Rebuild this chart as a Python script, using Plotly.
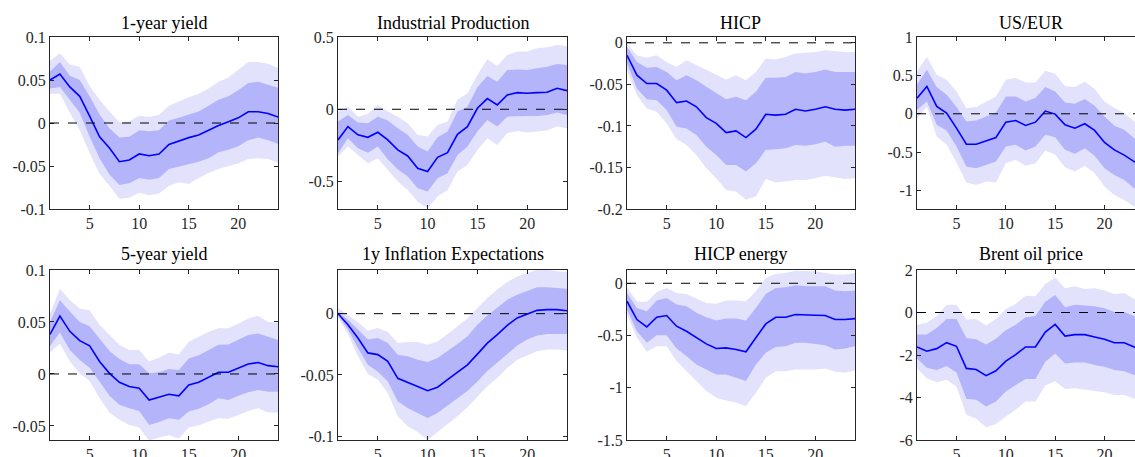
import plotly.graph_objects as go

# horizons (months)
horizon = list(range(1, 25))

# 1-year yield
oney_mid = [0.050, 0.057, 0.042, 0.031, 0.008, -0.016, -0.029, -0.045, -0.043, -0.036, -0.038, -0.036,
            -0.025, -0.021, -0.017, -0.014, -0.0085, -0.003, 0.0015, 0.006, 0.013, 0.013, 0.011, 0.007]
oney_hi68 = [0.060, 0.071, 0.055, 0.050, 0.031, 0.010, -0.006, -0.017, -0.016, -0.0085, -0.0097, -0.0085,
             0.003, 0.006, 0.010, 0.0135, 0.020, 0.027, 0.031, 0.038, 0.0465, 0.048, 0.0445, 0.041]
oney_lo68 = [0.040, 0.042, 0.027, 0.012, -0.016, -0.041, -0.060, -0.072, -0.070, -0.064, -0.066, -0.064,
             -0.0535, -0.051, -0.048, -0.045, -0.041, -0.034, -0.031, -0.027, -0.020, -0.017, -0.020, -0.024]
oney_hi90 = [0.072, 0.081, 0.068, 0.065, 0.043, 0.027, 0.0135, 0.001, 0.002, 0.0085, 0.007, 0.0097,
             0.020, 0.025, 0.030, 0.034, 0.040, 0.048, 0.053, 0.062, 0.071, 0.071, 0.069, 0.064]
oney_lo90 = [0.034, 0.034, 0.012, -0.008, -0.035, -0.059, -0.073, -0.088, -0.087, -0.081, -0.084, -0.082,
             -0.073, -0.069, -0.071, -0.064, -0.058, -0.0535, -0.050, -0.047, -0.042, -0.041, -0.042, -0.046]

# Industrial Production
ip_mid = [-0.212, -0.120, -0.177, -0.194, -0.159, -0.212, -0.281, -0.323, -0.408, -0.431, -0.332, -0.300,
          -0.173, -0.120, 0.007, 0.074, 0.030, 0.099, 0.115, 0.111, 0.115, 0.118, 0.145, 0.129]
ip_hi68 = [-0.085, -0.039, -0.092, -0.097, -0.051, -0.078, -0.131, -0.177, -0.258, -0.293, -0.194, -0.154,
           -0.016, 0.018, 0.152, 0.230, 0.191, 0.272, 0.276, 0.272, 0.283, 0.295, 0.313, 0.306]
ip_lo68 = [-0.304, -0.200, -0.270, -0.300, -0.258, -0.346, -0.415, -0.465, -0.546, -0.569, -0.477, -0.442,
           -0.316, -0.258, -0.154, -0.074, -0.120, -0.051, -0.046, -0.046, -0.046, -0.039, -0.023, -0.039]
ip_hi90 = [-0.016, 0.018, -0.051, -0.032, 0.030, -0.016, -0.051, -0.097, -0.177, -0.189, -0.108, -0.085,
           0.065, 0.111, 0.237, 0.346, 0.300, 0.376, 0.399, 0.399, 0.422, 0.429, 0.445, 0.438]
ip_lo90 = [-0.327, -0.258, -0.316, -0.373, -0.339, -0.419, -0.500, -0.558, -0.639, -0.684, -0.604, -0.558,
           -0.431, -0.385, -0.281, -0.200, -0.247, -0.166, -0.150, -0.161, -0.154, -0.147, -0.120, -0.131]

# HICP
hicp_mid = [-0.015, -0.039, -0.049, -0.049, -0.057, -0.072, -0.070, -0.077, -0.090, -0.097, -0.108, -0.106,
            -0.114, -0.104, -0.086, -0.087, -0.086, -0.080, -0.082, -0.080, -0.077, -0.080, -0.081, -0.080]
hicp_hi68 = [-0.005, -0.023, -0.030, -0.029, -0.035, -0.045, -0.039, -0.045, -0.053, -0.060, -0.068, -0.065,
             -0.069, -0.059, -0.042, -0.042, -0.041, -0.035, -0.037, -0.035, -0.032, -0.035, -0.035, -0.035]
hicp_lo68 = [-0.025, -0.055, -0.068, -0.069, -0.081, -0.101, -0.103, -0.111, -0.125, -0.135, -0.147, -0.147,
             -0.155, -0.145, -0.129, -0.128, -0.127, -0.123, -0.124, -0.122, -0.119, -0.125, -0.124, -0.124]
hicp_hi90 = [-0.001, -0.015, -0.018, -0.015, -0.023, -0.029, -0.021, -0.027, -0.033, -0.038, -0.044, -0.039,
             -0.045, -0.035, -0.019, -0.020, -0.017, -0.013, -0.012, -0.011, -0.009, -0.010, -0.011, -0.011]
hicp_lo90 = [-0.033, -0.063, -0.079, -0.083, -0.097, -0.116, -0.123, -0.135, -0.151, -0.163, -0.177, -0.179,
             -0.189, -0.185, -0.164, -0.168, -0.167, -0.165, -0.165, -0.163, -0.160, -0.162, -0.164, -0.163]

# US/EUR
fx_mid = [0.204, 0.357, 0.096, 0.009, -0.187, -0.396, -0.396, -0.352, -0.309, -0.109, -0.087, -0.152,
          -0.109, 0.035, -0.004, -0.143, -0.187, -0.130, -0.217, -0.374, -0.470, -0.539, -0.622, -0.680]
fx_hi68 = [0.378, 0.574, 0.348, 0.248, 0.087, -0.100, -0.087, -0.035, 0.017, 0.226, 0.226, 0.161,
           0.204, 0.348, 0.291, 0.148, 0.130, 0.191, 0.104, -0.035, -0.157, -0.209, -0.317, -0.370]
fx_lo68 = [0.052, 0.161, -0.143, -0.217, -0.426, -0.687, -0.709, -0.665, -0.622, -0.426, -0.404, -0.478,
           -0.426, -0.274, -0.304, -0.470, -0.522, -0.448, -0.548, -0.709, -0.796, -0.861, -0.970, -1.020]
fx_hi90 = [0.552, 0.739, 0.509, 0.443, 0.291, 0.074, 0.087, 0.161, 0.226, 0.443, 0.465, 0.409,
           0.409, 0.561, 0.522, 0.357, 0.348, 0.422, 0.322, 0.161, 0.074, 0.009, -0.100, -0.150]
fx_lo90 = [-0.057, 0.096, -0.296, -0.404, -0.635, -0.896, -0.926, -0.883, -0.896, -0.643, -0.600, -0.678,
           -0.643, -0.478, -0.535, -0.696, -0.752, -0.678, -0.774, -0.948, -1.057, -1.122, -1.209, -1.260]

# 5-year yield
fivey_mid = [0.038, 0.0556, 0.041, 0.032, 0.027, 0.012, 0.0006, -0.008, -0.012, -0.0137, -0.025, -0.022,
             -0.0195, -0.021, -0.0105, -0.008, -0.0035, 0.0016, 0.0016, 0.0054, 0.0096, 0.011, 0.008, 0.007]
fivey_hi68 = [0.050, 0.071, 0.060, 0.050, 0.046, 0.0335, 0.022, 0.0144, 0.0093, 0.0093, 0.0006, 0.0016,
              0.0048, 0.0038, 0.015, 0.018, 0.023, 0.028, 0.0284, 0.0326, 0.0374, 0.039, 0.0358, 0.0326]
fivey_lo68 = [0.027, 0.040, 0.023, 0.0134, 0.006, -0.0073, -0.021, -0.0297, -0.033, -0.0355, -0.049, -0.0463,
              -0.0425, -0.044, -0.036, -0.0335, -0.029, -0.0233, -0.025, -0.021, -0.0176, -0.0153, -0.017, -0.017]
fivey_hi90 = [0.058, 0.082, 0.071, 0.063, 0.0613, 0.047, 0.0374, 0.028, 0.023, 0.023, 0.012, 0.0156,
              0.0207, 0.0188, 0.031, 0.0358, 0.0406, 0.044, 0.044, 0.0486, 0.0534, 0.056, 0.050, 0.0495]
fivey_lo90 = [0.021, 0.029, 0.012, 0.0006, -0.0067, -0.023, -0.037, -0.044, -0.049, -0.0514, -0.064, -0.061,
              -0.059, -0.062, -0.0514, -0.0495, -0.0456, -0.0425, -0.043, -0.039, -0.0355, -0.033, -0.037, -0.037]

# 1y Inflation Expectations
infl_mid = [0.0, -0.009, -0.0198, -0.032, -0.0334, -0.0389, -0.0527, -0.0557, -0.0593, -0.0628, -0.060, -0.0538,
            -0.048, -0.0417, -0.033, -0.024, -0.0171, -0.0095, -0.0035, -0.0003, 0.0027, 0.0033, 0.0033, 0.0024]
infl_hi68 = [0.0014, -0.005, -0.013, -0.021, -0.0198, -0.024, -0.0334, -0.0348, -0.0375, -0.0394, -0.0361, -0.0307,
             -0.0247, -0.0185, -0.009, -0.0014, 0.0052, 0.0114, 0.0155, 0.0182, 0.0215, 0.0215, 0.021, 0.0204]
infl_lo68 = [-0.0014, -0.013, -0.028, -0.0417, -0.0473, -0.0554, -0.0715, -0.077, -0.081, -0.085, -0.081, -0.075,
             -0.069, -0.063, -0.0554, -0.0467, -0.040, -0.033, -0.026, -0.021, -0.0177, -0.0166, -0.0166, -0.0166]
infl_hi90 = [0.0046, -0.0008, -0.0068, -0.0139, -0.0117, -0.015, -0.024, -0.023, -0.023, -0.0253, -0.0226, -0.0166,
             -0.0103, -0.004, 0.0046, 0.0128, 0.0196, 0.0258, 0.0304, 0.0332, 0.0359, 0.0359, 0.0345, 0.034]
infl_lo90 = [-0.003, -0.0166, -0.0348, -0.0492, -0.0538, -0.0647, -0.0837, -0.0918, -0.0965, -0.103, -0.0965, -0.0905,
             -0.0837, -0.0764, -0.0674, -0.0592, -0.0524, -0.0443, -0.0375, -0.034, -0.0307, -0.0293, -0.0293, -0.030]

# HICP energy
energy_mid = [-0.172, -0.347, -0.417, -0.325, -0.309, -0.411, -0.459, -0.522, -0.580, -0.624, -0.618, -0.634,
              -0.656, -0.522, -0.389, -0.325, -0.325, -0.299, -0.306, -0.306, -0.309, -0.347, -0.347, -0.338]
energy_hi68 = [-0.092, -0.236, -0.268, -0.166, -0.140, -0.204, -0.220, -0.283, -0.325, -0.357, -0.338, -0.338,
               -0.357, -0.236, -0.102, -0.045, -0.038, -0.019, -0.029, -0.029, -0.029, -0.070, -0.076, -0.070]
energy_lo68 = [-0.252, -0.459, -0.570, -0.497, -0.497, -0.624, -0.697, -0.777, -0.825, -0.873, -0.873, -0.904,
               -0.936, -0.777, -0.666, -0.611, -0.602, -0.570, -0.570, -0.580, -0.592, -0.634, -0.624, -0.602]
energy_hi90 = [-0.038, -0.178, -0.178, -0.083, -0.045, -0.092, -0.102, -0.146, -0.188, -0.197, -0.166, -0.166,
               -0.172, -0.076, 0.051, 0.089, 0.099, 0.121, 0.121, 0.115, 0.099, 0.083, 0.083, 0.099]
energy_lo90 = [-0.299, -0.522, -0.656, -0.602, -0.602, -0.745, -0.841, -0.936, -1.032, -1.096, -1.121, -1.143,
               -1.175, -1.048, -0.904, -0.841, -0.841, -0.825, -0.825, -0.825, -0.815, -0.847, -0.857, -0.834]

# Brent oil price
brent_mid = [-1.62, -1.82, -1.70, -1.42, -1.59, -2.63, -2.68, -2.97, -2.74, -2.29, -1.98, -1.62,
             -1.62, -0.92, -0.56, -1.11, -1.04, -1.04, -1.15, -1.26, -1.42, -1.42, -1.62, -1.70]
brent_hi68 = [-1.04, -1.04, -0.73, -0.30, -0.30, -1.20, -1.26, -1.51, -1.23, -0.84, -0.58, -0.22,
              -0.17, 0.51, 0.82, 0.25, 0.36, 0.33, 0.30, 0.20, 0.02, 0.02, -0.17, -0.30]
brent_lo68 = [-2.16, -2.60, -2.71, -2.52, -2.82, -4.06, -4.11, -4.42, -4.19, -3.72, -3.41, -3.13,
              -3.13, -2.32, -1.93, -2.40, -2.35, -2.35, -2.47, -2.55, -2.71, -2.76, -2.94, -3.00]
brent_hi90 = [-0.58, -0.48, -0.17, 0.36, 0.36, -0.33, -0.30, -0.61, -0.30, 0.17, 0.40, 0.79,
              0.76, 1.34, 1.65, 1.14, 1.23, 1.11, 1.14, 1.03, 0.87, 0.92, 0.64, 0.50]
brent_lo90 = [-2.63, -3.10, -3.28, -3.17, -3.49, -4.81, -5.00, -5.40, -5.25, -4.89, -4.58, -4.19,
              -4.19, -3.44, -3.22, -3.60, -3.56, -3.60, -3.69, -3.75, -3.88, -3.88, -4.06, -4.10]

titles = ["1-year yield", "Industrial Production", "HICP", "US/EUR",
          "5-year yield", "1y Inflation Expectations", "HICP energy", "Brent oil price"]

# y tick labels (MATLAB style hyphen minus)
yticks = [
    ([-0.1, -0.05, 0, 0.05, 0.1], ["-0.1", "-0.05", "0", "0.05", "0.1"]),
    ([-0.5, 0, 0.5], ["-0.5", "0", "0.5"]),
    ([-0.2, -0.15, -0.1, -0.05, 0], ["-0.2", "-0.15", "-0.1", "-0.05", "0"]),
    ([-1, -0.5, 0, 0.5, 1], ["-1", "-0.5", "0", "0.5", "1"]),
    ([-0.05, 0, 0.05, 0.1], ["-0.05", "0", "0.05", "0.1"]),
    ([-0.1, -0.05, 0], ["-0.1", "-0.05", "0"]),
    ([-1.5, -1, -0.5, 0], ["-1.5", "-1", "-0.5", "0"]),
    ([-6, -4, -2, 0, 2], ["-6", "-4", "-2", "0", "2"]),
]
yranges = [[-0.1, 0.1], [-0.69, 0.5], [-0.2, 0.007], [-1.24, 1],
           [-0.0635, 0.1], [-0.103, 0.0356], [-1.5, 0.127], [-6, 2]]

panels = [
    (oney_mid, oney_lo68, oney_hi68, oney_lo90, oney_hi90),
    (ip_mid, ip_lo68, ip_hi68, ip_lo90, ip_hi90),
    (hicp_mid, hicp_lo68, hicp_hi68, hicp_lo90, hicp_hi90),
    (fx_mid, fx_lo68, fx_hi68, fx_lo90, fx_hi90),
    (fivey_mid, fivey_lo68, fivey_hi68, fivey_lo90, fivey_hi90),
    (infl_mid, infl_lo68, infl_hi68, infl_lo90, infl_hi90),
    (energy_mid, energy_lo68, energy_hi68, energy_lo90, energy_hi90),
    (brent_mid, brent_lo68, brent_hi68, brent_lo90, brent_hi90),
]

W, H = 1135, 457
# panel boxes in pixels (left, right) and (top, bottom)
col_px = [(50, 278), (338, 567), (627, 855), (917, 1135)]
row_px = [(37, 209), (270, 440)]
title_px = [23, 254]

FONT = "Liberation Serif"
OUTER = "rgb(226,226,253)"
INNER = "rgb(180,180,250)"
AXCOL = "#262626"

fig = go.Figure()
layout = dict(width=W, height=H, margin=dict(l=0, r=0, t=0, b=0, autoexpand=False),
              paper_bgcolor="white", plot_bgcolor="white", showlegend=False,
              font=dict(family=FONT, size=16, color="#262626"))
annotations = []
shapes = []

for i, (mid, lo68, hi68, lo90, hi90) in enumerate(panels):
    r, c = divmod(i, 4)
    n = i + 1
    xa = "x" if n == 1 else f"x{n}"
    ya = "y" if n == 1 else f"y{n}"
    xs = horizon + horizon[::-1]
    fig.add_trace(go.Scatter(x=xs, y=hi90 + lo90[::-1], fill="toself", fillcolor=OUTER,
                             line=dict(width=0), mode="lines", hoverinfo="skip", xaxis=xa, yaxis=ya))
    fig.add_trace(go.Scatter(x=xs, y=hi68 + lo68[::-1], fill="toself", fillcolor=INNER,
                             line=dict(width=0), mode="lines", hoverinfo="skip", xaxis=xa, yaxis=ya))
    fig.add_trace(go.Scatter(x=horizon, y=mid, mode="lines", line=dict(color="#0000ff", width=1.6),
                             xaxis=xa, yaxis=ya))

    x0, x1 = col_px[c]
    y0, y1 = row_px[r]
    # last column runs off the right edge of the picture
    last = c == 3
    xrange = [1, 1 + (x1 - x0) / (227 / 23)] if last else [1, 24]
    key = "" if n == 1 else str(n)
    layout["xaxis" + key] = dict(domain=[x0 / W, x1 / W], anchor=ya, range=xrange,
                                 tickvals=[5, 10, 15, 20], ticks="inside", ticklen=4,
                                 tickcolor=AXCOL, showline=True, linecolor=AXCOL, linewidth=1,
                                 mirror="ticks", showgrid=False, zeroline=False, automargin=False,
                                 tickfont=dict(size=16))
    tv, tt = yticks[i]
    layout["yaxis" + key] = dict(domain=[1 - y1 / H, 1 - y0 / H], anchor=xa,
                                 range=yranges[i], tickvals=tv, ticktext=tt, ticks="inside",
                                 ticklen=4, tickcolor=AXCOL, showline=True, linecolor=AXCOL,
                                 linewidth=1, mirror=False if last else "ticks", showgrid=False,
                                 zeroline=False, automargin=False, tickfont=dict(size=16))
    # zero reference line
    shapes.append(dict(type="line", xref=f"{xa} domain", yref=ya, x0=0, x1=1, y0=0, y1=0,
                       line=dict(color="black", width=1, dash="dash"), layer="above"))
    xc = (x0 + (1144 if last else x1)) / 2
    annotations.append(dict(text=titles[i], xref="paper", yref="paper",
                            x=xc / W, y=1 - title_px[r] / H,
                            xanchor="center", yanchor="middle", showarrow=False,
                            font=dict(family=FONT, size=18, color="black")))

layout["annotations"] = annotations
layout["shapes"] = shapes
fig.update_layout(**layout)

# drop the default 8px page margin so the figure fills the window exactly
fig.write_html("out.html", config={"displayModeBar": False},
               post_script="document.body.style.margin='0';document.body.style.overflow='hidden';")
